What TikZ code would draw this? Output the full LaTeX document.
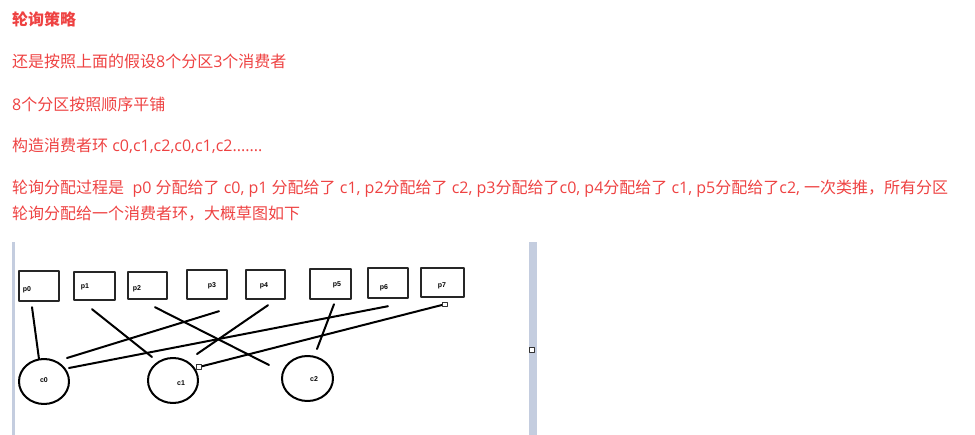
\documentclass[tikz,border=0pt]{standalone}
\usepackage{fontspec}
\newfontfamily\cjk{Noto Sans CJK SC}
\newfontfamily\latfont{Open Sans}
\newfontfamily\labfont{Liberation Sans}
\newcommand\lat[1]{{\latfont #1}}
\usetikzlibrary{shapes.geometric}
\definecolor{rouge}{RGB}{238,66,66}
\definecolor{barre}{RGB}{196,205,223}
\tikzset{
  texte/.style={anchor=base west, inner sep=0pt, text=rouge, font=\cjk\fontsize{16}{19}\selectfont},
  boite/.style={draw=black!85, line width=2.4pt, inner sep=0pt},
  cercle/.style={ellipse, draw=black, line width=2pt, inner sep=0pt},
  etiq/.style={inner sep=0pt, font=\labfont\bfseries\fontsize{7}{8}\selectfont},
  trait/.style={line width=2pt, line cap=round},
  poignee/.style={draw=black!80, fill=white, line width=0.7pt, minimum size=4.5pt, inner sep=0pt}
}
\begin{document}
\begin{tikzpicture}[x=1pt, y=-1pt, line join=round]
\useasboundingbox (0,0) rectangle (975,435);

% Texte au-dessus du croquis
\node[texte, font=\cjk\bfseries\fontsize{16}{19}\selectfont] (titre) at (12,26) {轮询策略};
\node[texte] (l1) at (12,68) {还是按照上面的假设\lat{8}个分区\lat{3}个消费者};
\node[texte] (l2) at (12,111) {\lat{8}个分区按照顺序平铺};
\node[texte] (l3) at (12,152) {构造消费者环\lat{ c0,c1,c2,c0,c1,c2.......}};
\node[texte] (l4) at (12,194) {轮询分配过程是\lat{\ \ p0 }分配给了\lat{ c0, p1 }分配给了\lat{ c1, p2}分配给了\lat{ c2, p3}分配给了\lat{c0, p4}分配给了\lat{ c1, p5}分配给了\lat{c2, }一次类推，所有分区};
\node[texte] (l5) at (12,220) {轮询分配给一个消费者环，大概草图如下};

% Bords de l'image
\fill[barre] (12,242) rectangle (15,435);
\fill[barre] (529,242) rectangle (537,435);
\node[poignee] (bord) at (532,350) {};

% Partitions
\foreach \n/\x/\y/\w/\h/\lx/\ly in {0/39/286/40/30/27/290, 1/94.5/286/41/28/85/287,
    2/147.5/285.5/39/27/137/289, 3/207/284.5/40/29/212/286, 4/265.5/284.5/39/29/264/286,
    5/330.5/284/41/30/337/285, 6/388/283/40/30/384/288, 7/442.5/282.5/43/29/442/286} {
  \node[boite, minimum width=\w pt, minimum height=\h pt] (p\n) at (\x,\y) {};
  \node[etiq] (p\n t) at (\lx,\ly) {p\n};
}

% Consommateurs
\node[cercle, minimum width=50pt, minimum height=45pt] (c0) at (44,381.5) {};
\node[cercle, minimum width=50pt, minimum height=45pt] (c1) at (173,380.5) {};
\node[cercle, minimum width=51pt, minimum height=45pt] (c2) at (307.5,378.5) {};
\node[etiq] (c0t) at (44,380) {c0};
\node[etiq] (c1t) at (181,383) {c1};
\node[etiq] (c2t) at (314,379) {c2};

% Affectation round-robin
\draw[trait] ([shift={(-7,5)}]p0.south) -- ([shift={(-5,-22.5)}]c0.center);
\draw[trait] ([shift={(-2.5,8)}]p1.south) -- ([shift={(-21,-23.5)}]c1.center);
\draw[trait] ([shift={(7.5,7)}]p2.south) -- ([shift={(-38.5,-13.5)}]c2.center);
\draw[trait] ([shift={(12,11)}]p3.south) -- ([shift={(23,-23.5)}]c0.center);
\draw[trait] ([shift={(2.5,5)}]p4.south) -- ([shift={(24,-26.5)}]c1.center);
\draw[trait] ([shift={(3.5,4)}]p5.south) -- ([shift={(9.5,-29.5)}]c2.center);
\draw[trait] ([shift={(0,7)}]p6.south) -- ([shift={(25,-13.5)}]c0.center);
\draw[trait] ([shift={(2.5,6)}]p7.south) node[poignee] {} -- ([shift={(26,-13.5)}]c1.center) node[poignee] {};

\end{tikzpicture}
\end{document}
